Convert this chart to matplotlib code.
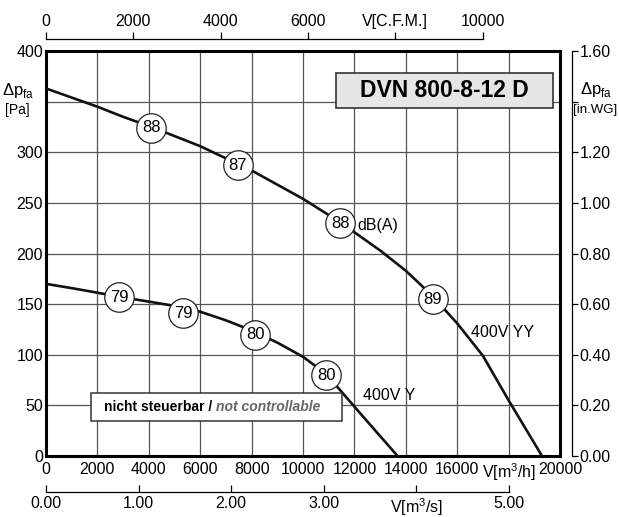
import numpy as np
import matplotlib
matplotlib.use("Agg")
import matplotlib.pyplot as plt
from matplotlib.patches import Rectangle

plt.rcParams['font.family'] = ['Liberation Sans', 'DejaVu Sans']
plt.rcParams['mathtext.fontset'] = 'custom'
plt.rcParams['mathtext.rm'] = 'Liberation Sans'

# characteristic curves (V in m3/h, dp in Pa)
yy_q = [0, 1000, 2000, 3000, 4100, 5000, 6000, 7000, 8000, 9000, 10000, 11000, 12000,
        13000, 14000, 15000, 16000, 17000, 18000, 19300]
yy_p = [363, 354, 345, 335, 325, 316, 306, 294, 282, 268, 254, 238, 221,
        203, 183, 159, 131, 99, 55, 0]
y_q = [0, 1000, 2000, 2850, 4000, 4820, 6000, 7000, 8000, 9000, 10000, 10900, 12300, 13680]
y_p = [170, 165.8, 161.3, 157.3, 152.5, 149, 142.5, 134, 124, 112, 98, 81, 40, 0]

# sound level markers dB(A)
yy_db_q = [4100, 7470, 11440, 15040]
yy_db_p = [324, 287, 230, 155]
yy_db = ['88', '87', '88', '89']
y_db_q = [2850, 5330, 8150, 10900]
y_db_p = [157, 141, 120, 80]
y_db = ['79', '79', '80', '80']

x_ticks = [0, 2000, 4000, 6000, 8000, 10000, 12000, 14000, 16000, 18000, 20000]
x_labels = ['0', '2000', '4000', '6000', '8000', '10000', '12000', '14000', '16000', 'V[m$^3$/h]', '20000']
y_ticks = [0, 50, 100, 150, 200, 250, 300, 350, 400]
y_labels = ['0', '50', '100', '150', '200', '250', '300', '', '400']
wg_ticks = [0.0, 0.2, 0.4, 0.6, 0.8, 1.0, 1.2, 1.4, 1.6]
wg_labels = ['0.00', '0.20', '0.40', '0.60', '0.80', '1.00', '1.20', '', '1.60']
cfm_ticks = [0, 2000, 4000, 6000, 8000, 10000]
cfm_labels = ['0', '2000', '4000', '6000', 'V[C.F.M.]', '10000']
ms_ticks = [0, 1, 2, 3, 4, 5]
ms_labels = ['0.00', '1.00', '2.00', '3.00', 'V[m$^3$/s]', '5.00']

fs = 11.5

fig = plt.figure(figsize=(6.19, 5.17), dpi=100)
ax = fig.add_axes([46/619, 1 - 456/517, 514/619, 405/517])
ax.set_xlim(0, 20000)
ax.set_ylim(0, 400)
ax.tick_params(axis='x', length=0, pad=4, labelsize=fs)
ax.tick_params(axis='y', length=0, pad=2, labelsize=fs)
ax.set_xticks(x_ticks)
ax.set_xticklabels(x_labels)
ax.set_yticks(y_ticks)
ax.set_yticklabels(y_labels)
ax.grid(True, color='#555555', lw=0.9)
for s in ax.spines.values():
    s.set_linewidth(2.2)

ax.plot(yy_q, yy_p, color='#111111', lw=1.9, zorder=3)
ax.plot(y_q, y_p, color='#111111', lw=1.9, zorder=3)

for q, p, t in zip(yy_db_q + y_db_q, yy_db_p + y_db_p, yy_db + y_db):
    ax.scatter(q, p, s=450, facecolor='white', edgecolor='#222222', lw=0.9, zorder=4)
    ax.text(q, p, t, ha='center', va='center', fontsize=12, zorder=5)

ax.text(12100, 228, 'dB(A)', fontsize=fs, va='center', zorder=5)
ax.text(16550, 122, '400V YY', fontsize=fs, va='center', zorder=5)
ax.text(12350, 60, '400V Y', fontsize=fs, va='center', zorder=5)

# title box
ax.add_patch(Rectangle((11290, 343.5), 8430, 35, facecolor='#e6e6e6', edgecolor='#333333', lw=1.2, zorder=5))
ax.text(15505, 361, 'DVN 800-8-12 D', fontsize=16.5, fontweight='bold', ha='center', va='center', zorder=6)

# not controllable box
ax.add_patch(Rectangle((1750, 34.5), 9750, 28, facecolor='white', edgecolor='#333333', lw=1.1, zorder=5))
t1 = ax.text(2250, 48.5, 'nicht steuerbar / ', fontsize=10, fontweight='bold', va='center', zorder=6)
fig.canvas.draw()
bb = t1.get_window_extent()
x_end = ax.transData.inverted().transform((bb.x1, bb.y0))[0]
ax.text(x_end, 48.5, 'not controllable', fontsize=10, fontweight='bold', style='italic',
        color='#666666', va='center', zorder=6)

# y axis labels
ax.text(-0.055, 352, r'$\Delta$p$_{\mathregular{fa}}$', transform=ax.get_yaxis_transform(),
        ha='center', va='bottom', fontsize=12)
ax.text(-0.055, 349, '[Pa]', transform=ax.get_yaxis_transform(), ha='center', va='top', fontsize=10)

# right axis in.WG
axr = ax.twinx()
axr.set_ylim(0, 1.6)
axr.tick_params(axis='y', direction='out', length=4.5, width=0.9, pad=1, labelsize=fs)
axr.set_yticks(wg_ticks)
axr.set_yticklabels(wg_labels)
axr.spines['right'].set_position(('outward', 8.6))
axr.spines['right'].set_linewidth(0.9)
for k in ['top', 'bottom', 'left']:
    axr.spines[k].set_visible(False)
axr.text(1.07, 1.41, r'$\Delta$p$_{\mathregular{fa}}$', transform=axr.get_yaxis_transform(),
         ha='center', va='bottom', fontsize=12)
axr.text(1.068, 1.39, '[in.WG]', transform=axr.get_yaxis_transform(), ha='center', va='top', fontsize=9.5)

# top axis CFM
axt = ax.twiny()
axt.set_xlim(0, 20000 / 1.699)
axt.tick_params(axis='x', direction='out', length=5, width=0.9, pad=2.5, labelsize=fs)
axt.set_xticks(cfm_ticks)
axt.set_xticklabels(cfm_labels)
axt.spines['top'].set_position(('outward', 8.6))
axt.spines['top'].set_bounds(0, 10000)
axt.spines['top'].set_linewidth(0.9)
for k in ['bottom', 'left', 'right']:
    axt.spines[k].set_visible(False)

# bottom axis m3/s
axb = ax.twiny()
axb.set_xlim(0, 20000 / 3600)
axb.xaxis.set_ticks_position('bottom')
axb.xaxis.set_label_position('bottom')
axb.tick_params(axis='x', direction='in', length=5, width=0.9, pad=3, labelsize=fs)
axb.set_xticks(ms_ticks)
axb.set_xticklabels(ms_labels)
axb.spines['bottom'].set_position(('outward', 26))
axb.spines['bottom'].set_bounds(0, 5)
axb.spines['bottom'].set_linewidth(0.9)
for k in ['top', 'left', 'right']:
    axb.spines[k].set_visible(False)

fig.savefig('out.png', dpi=100)
